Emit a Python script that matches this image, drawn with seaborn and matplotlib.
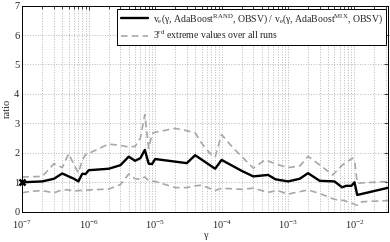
import matplotlib
matplotlib.use("Agg")
import matplotlib.pyplot as plt
import matplotlib.ticker as mticker
import seaborn as sns

# ratio curve (solid black)
gamma_ratio = [1e-7, 2e-7, 3e-7, 4e-7, 5e-7, 6e-7, 7e-7, 8e-7, 9e-7, 1e-6,
               2e-6, 3e-6, 4e-6, 5e-6, 6e-6, 7e-6, 8e-6, 9e-6, 1e-5, 3e-5,
               4e-5, 8e-5, 1e-4, 2e-4, 3e-4, 5e-4, 6.5e-4, 1e-3, 1.5e-3, 2e-3,
               3e-3, 5e-3, 6.5e-3, 7.5e-3, 9e-3, 1e-2, 1.1e-2, 3.3e-2]
ratio = [1.0, 1.03, 1.12, 1.3, 1.2, 1.12, 1.03, 1.29, 1.28, 1.41,
         1.46, 1.58, 1.87, 1.73, 1.82, 2.1, 1.63, 1.62, 1.79, 1.65,
         1.92, 1.46, 1.76, 1.39, 1.2, 1.25, 1.1, 1.03, 1.12, 1.31,
         1.05, 1.03, 0.83, 0.88, 0.88, 1.0, 0.57, 0.82]

# 3rd extreme values, upper envelope
gamma_upper = [1e-7, 2e-7, 3e-7, 4e-7, 5e-7, 6e-7, 7e-7, 8e-7, 9e-7, 1e-6,
               2e-6, 3e-6, 4e-6, 5e-6, 6e-6, 7e-6, 8e-6, 9e-6, 1e-5, 2e-5,
               3e-5, 4e-5, 5e-5, 7e-5, 8e-5, 1e-4, 1.5e-4, 2e-4, 3e-4, 4.5e-4,
               7e-4, 1e-3, 1.5e-3, 2e-3, 3e-3, 4.7e-3, 6.6e-3, 9.3e-3, 1e-2, 1.1e-2,
               3.3e-2]
upper = [1.18, 1.2, 1.63, 1.5, 1.97, 1.6, 1.32, 1.75, 1.95, 1.98,
         2.3, 2.25, 2.2, 2.22, 2.5, 3.3, 2.15, 2.65, 2.7, 2.83,
         2.75, 2.68, 2.33, 1.93, 1.86, 2.62, 2.16, 1.88, 1.48, 1.76,
         1.6, 1.5, 1.55, 1.88, 1.59, 1.25, 1.59, 1.82, 1.76, 0.97,
         1.03]

# 3rd extreme values, lower envelope
gamma_lower = [1e-7, 1.5e-7, 2e-7, 3e-7, 4e-7, 5e-7, 6e-7, 7e-7, 1e-6, 2e-6,
               3e-6, 4e-6, 5e-6, 6e-6, 7e-6, 8e-6, 1e-5, 2e-5, 3e-5, 4e-5,
               5e-5, 8e-5, 1e-4, 2e-4, 3e-4, 5e-4, 7e-4, 1e-3, 2e-3, 3e-3,
               5e-3, 7e-3, 1.1e-2, 1.3e-2, 3.3e-2]
lower = [0.65, 0.7, 0.72, 0.64, 0.75, 0.74, 0.7, 0.72, 0.74, 0.77,
         0.92, 1.28, 1.12, 1.1, 1.18, 1.05, 1.03, 0.82, 0.82, 0.88,
         0.9, 0.72, 0.8, 0.76, 0.8, 0.66, 0.72, 0.6, 0.74, 0.62,
         0.42, 0.38, 0.22, 0.34, 0.38]

label_ratio = (r"v$_\mathrm{e}$(γ, AdaBoost$^\mathrm{RAND}$, OBSV) / "
               r"v$_\mathrm{e}$(γ, AdaBoost$^\mathrm{MIX}$, OBSV)")
label_extreme = r"3$^\mathrm{rd}$ extreme values over all runs"

sns.set_style("white")
plt.rcParams["font.family"] = ["Liberation Serif", "DejaVu Serif"]
plt.rcParams["mathtext.fontset"] = "custom"
plt.rcParams["mathtext.rm"] = "Liberation Serif"
plt.rcParams["mathtext.it"] = "Liberation Serif:italic"
plt.rcParams["font.size"] = 7.5

fig = plt.figure(figsize=(3.9, 2.42), dpi=100)
ax = fig.add_axes([0.057, 0.125, 0.938, 0.852])

ext_color = "#a8a8a8"
sns.lineplot(x=gamma_upper, y=upper, ax=ax, color=ext_color, lw=1.2,
             linestyle=(0, (4, 2.5)), label=label_extreme)
sns.lineplot(x=gamma_lower, y=lower, ax=ax, color=ext_color, lw=1.2,
             linestyle=(0, (4, 2.5)))
sns.lineplot(x=gamma_ratio, y=ratio, ax=ax, color="black", lw=1.7,
             label=label_ratio)
ax.plot(gamma_ratio[:1], ratio[:1], marker="x", color="black", ms=5, mew=1.8,
        clip_on=False)

ax.set_xscale("log")
ax.set_xlim(1e-7, 3.2e-2)
ax.set_ylim(0, 7)
ax.set_yticks(range(0, 8))
ax.xaxis.set_major_locator(mticker.LogLocator(base=10, numticks=12))
ax.xaxis.set_minor_locator(mticker.LogLocator(base=10, subs=range(2, 10), numticks=12))
ax.xaxis.set_minor_formatter(mticker.NullFormatter())

ax.grid(True, which="major", color="#b8b8b8", linestyle=":", lw=0.7)
ax.grid(True, which="minor", axis="x", color="#b8b8b8", linestyle=":", lw=0.7)
ax.tick_params(which="both", direction="in", top=True, right=True,
               length=3, width=0.6, labelsize=7.5, pad=2)
ax.tick_params(axis="x", which="major", pad=5)
ax.tick_params(which="minor", length=1.8)
for s in ax.spines.values():
    s.set_color("black")
    s.set_linewidth(0.7)

ax.set_xlabel("γ", labelpad=0)
ax.set_ylabel("ratio", labelpad=2)

handles, labels = ax.get_legend_handles_labels()
leg = ax.legend(handles[::-1], labels[::-1], loc="upper right",
                bbox_to_anchor=(0.995, 0.985), fancybox=False, framealpha=1,
                edgecolor="black", fontsize=7, handlelength=2.8,
                handletextpad=0.5, borderpad=0.35, labelspacing=0.3,
                borderaxespad=0)
leg.get_frame().set_linewidth(0.7)

fig.savefig("out.png", dpi=100)
